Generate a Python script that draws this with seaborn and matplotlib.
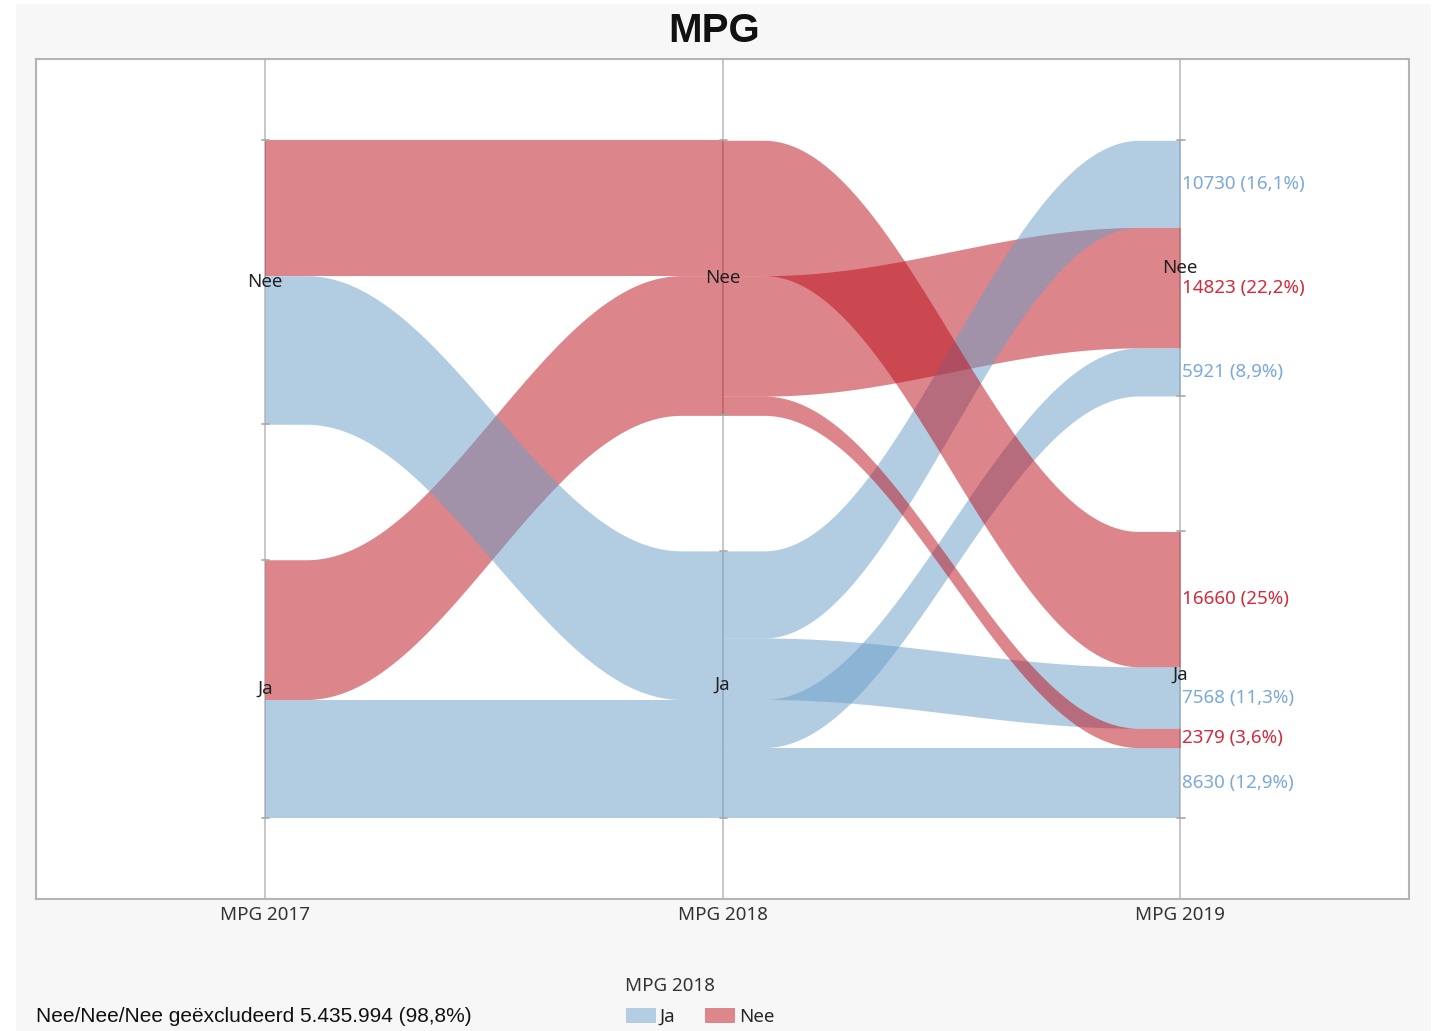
import numpy as np
import matplotlib
matplotlib.use("Agg")
import matplotlib.pyplot as plt
import matplotlib.patches as mpatches
import seaborn as sns

# ---------------- data ----------------
years = ["MPG 2017", "MPG 2018", "MPG 2019"]
categories = ["Nee", "Ja"]                     # top to bottom
path_2017 = ["Nee", "Nee", "Nee", "Ja", "Ja", "Ja", "Ja"]
path_2018 = ["Nee", "Ja", "Ja", "Nee", "Nee", "Ja", "Ja"]
path_2019 = ["Ja", "Nee", "Ja", "Nee", "Ja", "Nee", "Ja"]
path_values = [16660, 10730, 7568, 14823, 2379, 5921, 8630]
legend_title = "MPG 2018"
title_text = "MPG"
footer_text = "Nee/Nee/Nee geëxcludeerd 5.435.994 (98,8%)"

# ---------------- style ----------------
sns.set_theme(style="white")
plt.rcParams["font.family"] = ["Noto Sans", "DejaVu Sans"]
fill_colors = {"Ja": "#679DC7", "Nee": "#BB0D19"}
legend_colors = {"Ja": "#B3CEE3", "Nee": "#DD868C"}
text_colors = {"Ja": "#7BA9D9", "Nee": "#D42A3A"}
ALPHA = 0.5
FS = 13.5

W, H = 1440, 1031
fig = plt.figure(figsize=(W / 100, H / 100), dpi=100, facecolor="white")
fig.patches.append(mpatches.Rectangle((16 / W, 0), (1431 - 16) / W, 1 - 4 / H,
                                      transform=fig.transFigure, facecolor="#F7F7F7",
                                      edgecolor="none", zorder=-10))
ax = fig.add_axes([36 / W, 1 - 899 / H, (1409 - 36) / W, (899 - 59) / H])
ax.set_facecolor("white")

axes_paths = [path_2017, path_2018, path_2019]
n = len(path_values)
total = sum(path_values)
gap = total / 4.0
span = total + gap

# stacking positions at each axis
tops = np.zeros((3, n))
bots = np.zeros((3, n))
cat_ranges = []
for k in range(3):
    cp = axes_paths[k]
    others = [j for j in range(3) if j != k]
    ranges = {}
    start = 0.0
    for c in categories:
        members = [i for i in range(n) if cp[i] == c]
        members.sort(key=lambda i: tuple(categories.index(axes_paths[j][i]) for j in others))
        y = start
        for i in members:
            tops[k, i] = y
            y += path_values[i]
            bots[k, i] = y
        ranges[c] = (start, y)
        start = y + gap
    cat_ranges.append(ranges)

FLAT = 0.09
tt = np.linspace(0, 1, 400)
uu = np.clip((tt - FLAT) / (1 - 2 * FLAT), 0, 1)
ss = (1 - np.cos(np.pi * uu)) / 2


def ribbon(x0, t0, b0, x1, t1, b1, color, z):
    xs = x0 + tt * (x1 - x0)
    top = t0 + (t1 - t0) * ss
    bot = b0 + (b1 - b0) * ss
    ax.fill_between(xs, top, bot, color=color, alpha=ALPHA, linewidth=0, zorder=z)


# segment 2017 -> 2018, aggregated by (2017, 2018) pair; reds below blues
groups = []
for c18 in ["Nee", "Ja"]:
    for c17 in categories:
        members = [i for i in range(n) if path_2017[i] == c17 and path_2018[i] == c18]
        if members:
            groups.append((c18, members))
z = 2
for c18, members in groups:
    ribbon(0, min(tops[0, members]), max(bots[0, members]),
           1, min(tops[1, members]), max(bots[1, members]), fill_colors[c18], z)
    z += 1

# segment 2018 -> 2019, one ribbon per path
seg2_order = [3, 1, 2, 5, 6, 0, 4]
for i in seg2_order:
    ribbon(1, tops[1, i], bots[1, i], 2, tops[2, i], bots[2, i], fill_colors[path_2018[i]], z)
    z += 1

# vertical axes and boundary ticks
margin = 0.12 * span
ax.set_xlim(-0.5, 2.5)
ax.set_ylim(span + margin, -margin)
for k in range(3):
    ax.plot([k, k], [span + margin, -margin], color="#BDBDBD", lw=1.2, zorder=1)
    for c in categories:
        a, b = cat_ranges[k][c]
        for yv in (a, b):
            ax.plot([k - 0.006, k + 0.010], [yv, yv], color="#A8A8A8", lw=1.2, zorder=20)
        ax.text(k, (a + b) / 2, c, ha="center", va="center", fontsize=FS,
                color="#222222", zorder=30)

# value labels at the last axis
for i in range(n):
    pct = 100.0 * path_values[i] / total
    ptxt = f"{pct:.1f}".replace(".", ",")
    if ptxt.endswith(",0"):
        ptxt = ptxt[:-2]
    ax.text(2.004, (tops[2, i] + bots[2, i]) / 2, f"{path_values[i]} ({ptxt}%)",
            ha="left", va="center", fontsize=FS, color=text_colors[path_2018[i]], zorder=30)

ax.set_xticks([0, 1, 2])
ax.set_xticklabels(years, fontsize=FS, color="#333333")
ax.tick_params(axis="x", length=0, pad=5)
ax.set_yticks([])
for sp in ax.spines.values():
    sp.set_visible(True)
    sp.set_color("#B4B4B4")
    sp.set_linewidth(1.5)

fig.text(714 / W, 1 - 31 / H, title_text, ha="center", va="center", fontsize=29,
         fontweight="bold", family=["Liberation Sans", "DejaVu Sans"], color="#111111")
fig.text(36 / W, 1 - 1016 / H, footer_text, ha="left", va="center", fontsize=15,
         family=["Liberation Sans", "DejaVu Sans"], color="#111111")

# legend: title as text, entries as a legend row
fig.text(625 / W, 1 - 986 / H, legend_title, ha="left", va="center", fontsize=FS, color="#333333")
handles = [mpatches.Patch(facecolor=legend_colors[c], edgecolor="none", label=c) for c in ["Ja", "Nee"]]
fig.legend(handles=handles, loc="center left",
           bbox_to_anchor=(626 / W, 1 - 1017 / H), ncol=2, frameon=False,
           fontsize=FS, handlelength=1.6, handleheight=0.85,
           handletextpad=0.2, columnspacing=1.6, borderpad=0, borderaxespad=0)

fig.savefig("out.png", dpi=100, facecolor=fig.get_facecolor())
